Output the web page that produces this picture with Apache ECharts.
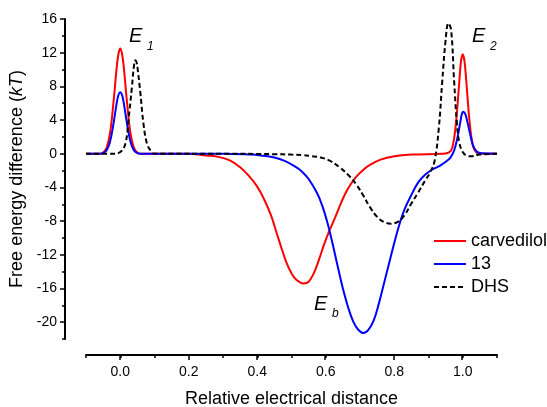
<!DOCTYPE html>
<html>
<head>
    <meta charset="utf-8">
    <title>Free energy</title>
    <script type="text/javascript" src="https://cdn.jsdelivr.net/npm/echarts@6.0.0/dist/echarts.min.js"></script>
</head>
<body style="margin:0">
<div id="main" style="width: 547px;height:407px;"></div>
<script type="text/javascript">
    // values, [distance, kT]
    var carvedilol = [
        [-0.1, 0], [-0.06, 0], [-0.05, 0.15], [-0.04, 0.7], [-0.03, 2.4], [-0.02, 6.0], [-0.01, 10.4],
        [-0.005, 11.9], [0.0, 12.5], [0.005, 11.9], [0.01, 10.4], [0.02, 6.0], [0.03, 2.4], [0.04, 0.7],
        [0.05, 0.15], [0.06, 0],
        [0.2, 0], [0.25, -0.2], [0.29, -0.4], [0.32, -0.8], [0.35, -1.6], [0.375, -2.6], [0.4, -3.9],
        [0.42, -5.4], [0.44, -7.3], [0.455, -9.2], [0.47, -11.1], [0.485, -12.9], [0.5, -14.2],
        [0.515, -15.0], [0.535, -15.4], [0.55, -15.2], [0.565, -14.2], [0.58, -12.6], [0.595, -10.8],
        [0.61, -9.2], [0.625, -7.8], [0.64, -6.3], [0.655, -4.9], [0.67, -3.8], [0.69, -2.7], [0.71, -1.9],
        [0.73, -1.3], [0.76, -0.7], [0.8, -0.3], [0.85, -0.1], [0.94, 0], [0.96, 0.15], [0.97, 0.8],
        [0.98, 3.6], [0.99, 8.6], [0.995, 11.0], [1.0, 11.8], [1.005, 11.0], [1.01, 8.8], [1.02, 3.8],
        [1.03, 0.9], [1.04, 0.15], [1.05, 0], [1.1, 0]
    ];
    var compound13 = [
        [-0.1, 0], [-0.06, 0], [-0.05, 0.08], [-0.04, 0.4], [-0.03, 1.4], [-0.02, 3.5], [-0.01, 6.1],
        [-0.005, 7.0], [0.0, 7.3], [0.005, 7.0], [0.01, 6.1], [0.02, 3.5], [0.03, 1.4], [0.04, 0.4],
        [0.05, 0.08], [0.06, 0],
        [0.3, 0], [0.38, -0.1], [0.41, -0.2], [0.45, -0.45], [0.48, -0.85], [0.51, -1.5],
        [0.53, -2.1], [0.55, -3.0], [0.575, -4.7], [0.59, -6.2], [0.605, -8.2], [0.62, -10.7],
        [0.635, -13.4], [0.65, -16.0], [0.665, -18.2], [0.68, -19.9], [0.695, -20.9], [0.71, -21.3],
        [0.725, -20.9], [0.74, -19.8], [0.755, -17.8], [0.77, -15.4], [0.785, -13.0], [0.8, -10.6],
        [0.815, -8.4], [0.83, -6.6], [0.85, -4.9], [0.87, -3.4], [0.89, -2.5], [0.91, -1.9],
        [0.93, -1.5], [0.945, -1.1], [0.955, -0.8], [0.965, -0.4], [0.975, 0.4], [0.985, 2.0],
        [0.993, 3.8], [0.998, 4.8], [1.002, 5.0], [1.006, 4.8], [1.01, 4.4], [1.02, 2.6], [1.03, 1.0],
        [1.04, 0.3], [1.055, 0.05], [1.1, 0]
    ];
    var dhs = [
        [-0.1, 0], [-0.02, 0], [0.0, 0.2], [0.015, 1.2], [0.024, 4.0], [0.034, 7.9], [0.04, 10.4],
        [0.044, 11.1], [0.048, 10.8], [0.051, 10.0], [0.058, 7.5], [0.068, 3.5], [0.078, 1.2],
        [0.09, 0.3], [0.1, 0],
        [0.3, 0], [0.45, -0.05], [0.5, -0.1], [0.53, -0.15], [0.56, -0.3], [0.585, -0.45],
        [0.61, -0.8], [0.64, -1.6], [0.67, -2.7], [0.69, -3.7], [0.71, -5.0], [0.73, -6.4],
        [0.75, -7.5], [0.77, -8.1], [0.79, -8.3], [0.81, -8.1], [0.83, -7.3], [0.85, -5.9],
        [0.87, -4.6], [0.89, -3.2], [0.905, -2.2], [0.918, -0.8], [0.93, 3.0], [0.94, 8.5],
        [0.95, 13.5], [0.958, 15.5], [0.966, 14.7], [0.975, 8.5], [0.983, 3.6], [0.99, 1.3],
        [1.0, 0.2], [1.01, -0.2], [1.025, -0.3], [1.05, -0.1], [1.1, 0]
    ];
    var seriesNames = ['carvedilol', '13', 'DHS'];
    var xMajorTicks = [0, 0.2, 0.4, 0.6, 0.8, 1.0];
    var yMajorTicks = [-20, -16, -12, -8, -4, 0, 4, 8, 12, 16];

    var myChart = echarts.init(document.getElementById('main'));
    var font = 'Liberation Sans, Arial, sans-serif';
    var tickStyle = {color: '#000', width: 1.5};
    var hidden = {show: false, splitLine: {show: false}};

    var option = {
        animation: false,
        backgroundColor: '#fff',
        // grid 0 holds the data, grids 1 and 2 only carry the longer major ticks
        grid: [
            {left: 86, right: 50, top: 19, bottom: 68, outerBoundsMode: 'none'},
            {left: 86, right: 50, top: 19, bottom: 85, outerBoundsMode: 'none'},
            {left: 120, right: 85, top: 19, bottom: 68, outerBoundsMode: 'none'}
        ],
        legend: {
            orient: 'vertical',
            left: 428,
            top: 227,
            itemWidth: 32,
            itemHeight: 18,
            itemGap: 5,
            itemStyle: {color: 'transparent', borderColor: 'transparent', borderWidth: 0, opacity: 0},
            textStyle: {fontFamily: font, fontSize: 18, color: '#000'},
            data: seriesNames
        },
        xAxis: [
            {
                gridIndex: 0, type: 'value', min: -0.1, max: 1.1, interval: 0.1, offset: 16,
                splitLine: {show: false},
                name: 'Relative electrical distance', nameLocation: 'middle', nameGap: 35,
                nameTextStyle: {fontFamily: font, fontSize: 18, color: '#000'},
                axisLine: {show: true, onZero: false, lineStyle: {color: '#000', width: 2}},
                axisTick: {show: true, length: 3, lineStyle: tickStyle},
                axisLabel: {customValues: xMajorTicks, margin: 10, fontFamily: font, fontSize: 14,
                    color: '#000', formatter: function (v) { return v.toFixed(1); }}
            },
            Object.assign({gridIndex: 1, type: 'value'}, hidden),
            {
                gridIndex: 2, type: 'value', min: 0, max: 1, interval: 0.2, offset: 16,
                splitLine: {show: false},
                axisLine: {show: false, onZero: false},
                axisTick: {show: true, length: 5, lineStyle: tickStyle},
                axisLabel: {show: false}
            }
        ],
        yAxis: [
            {
                gridIndex: 0, type: 'value', min: -22, max: 16, interval: 2, offset: 21,
                splitLine: {show: false},
                name: '{n|Free energy difference (}{i|kT}{n|)}', nameLocation: 'middle', nameGap: 32,
                nameTextStyle: {
                    rich: {
                        n: {fontFamily: font, fontSize: 18, color: '#000'},
                        i: {fontFamily: font, fontSize: 18, color: '#000', fontStyle: 'italic'}
                    }
                },
                axisLine: {show: true, onZero: false, lineStyle: {color: '#000', width: 2}},
                axisTick: {show: true, length: 3, lineStyle: tickStyle},
                axisLabel: {customValues: yMajorTicks, margin: 8, fontFamily: font, fontSize: 14, color: '#000'}
            },
            {
                gridIndex: 1, type: 'value', min: -20, max: 16, interval: 4, offset: 21,
                splitLine: {show: false},
                axisLine: {show: false, onZero: false},
                axisTick: {show: true, length: 5, lineStyle: tickStyle},
                axisLabel: {show: false}
            },
            Object.assign({gridIndex: 2, type: 'value'}, hidden)
        ],
        series: [
            {name: seriesNames[0], type: 'line', data: carvedilol, symbol: 'none', smooth: 0.4,
                lineStyle: {color: '#ff0000', width: 2}, itemStyle: {color: '#ff0000'}, z: 3},
            {name: seriesNames[1], type: 'line', data: compound13, symbol: 'none', smooth: 0.4,
                lineStyle: {color: '#0000ff', width: 2}, itemStyle: {color: '#0000ff'}, z: 4},
            {name: seriesNames[2], type: 'line', data: dhs, symbol: 'none', smooth: 0.4,
                lineStyle: {color: '#000', width: 2, type: [5, 3]}, itemStyle: {color: '#000'}, z: 5}
        ],
        graphic: [
            {type: 'text', left: 129, top: 26, style: {text: 'E', font: 'italic 20px ' + font, fill: '#000'}},
            {type: 'text', left: 147, top: 41, style: {text: '1', font: 'italic 12px ' + font, fill: '#000'}},
            {type: 'text', left: 472, top: 26, style: {text: 'E', font: 'italic 20px ' + font, fill: '#000'}},
            {type: 'text', left: 490, top: 41, style: {text: '2', font: 'italic 12px ' + font, fill: '#000'}},
            {type: 'text', left: 314, top: 294, style: {text: 'E', font: 'italic 20px ' + font, fill: '#000'}},
            {type: 'text', left: 332, top: 308, style: {text: 'b', font: 'italic 12px ' + font, fill: '#000'}}
        ]
    };
    myChart.setOption(option);
</script>
</body>
</html>
